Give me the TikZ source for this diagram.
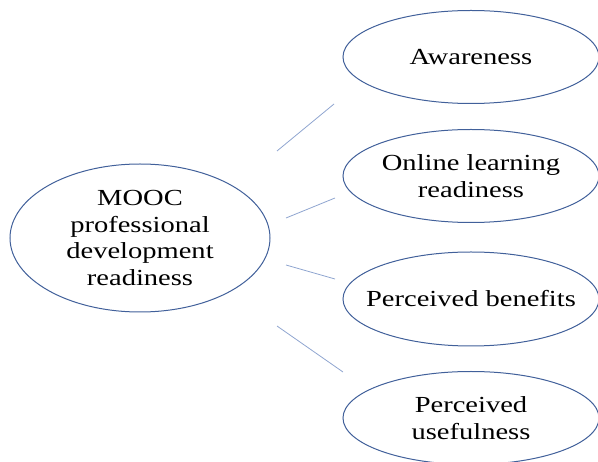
\documentclass[tikz,border=0pt]{standalone}
\usepackage{fontspec}
\setmainfont{Liberation Serif}[FakeStretch=1.24]
\usetikzlibrary{shapes.geometric}
\definecolor{rim}{HTML}{41609A}
\definecolor{link}{HTML}{8FA5D0}
\begin{document}
\begin{tikzpicture}[x=1pt,y=-1pt,
  oval/.style={ellipse, draw=rim, line width=1pt, inner xsep=-40pt, inner ysep=0pt,
    align=center, font=\fontsize{23}{27}\selectfont},
  link/.style={draw=link, line width=0.8pt}]
\useasboundingbox (0,0) rectangle (598,462);
% central construct
\node[oval, minimum width=260pt, minimum height=148pt] (mooc) at (140,238)
  {MOOC\\professional\\development\\readiness};
% dimensions
\node[oval, minimum width=256pt, minimum height=93pt] (aw) at (471,57) {Awareness};
\node[oval, minimum width=256pt, minimum height=93pt] (ol) at (471,176) {Online learning\\readiness};
\node[oval, minimum width=256pt, minimum height=94pt] (pb) at (471,299) {Perceived benefits};
\node[oval, minimum width=256pt, minimum height=93pt] (pu) at (471,418) {Perceived\\usefulness};
% detached connector ends
\coordinate (a1) at (277,151); \coordinate (b1) at (334,104);
\coordinate (a2) at (286,218); \coordinate (b2) at (335,198);
\coordinate (a3) at (286,265); \coordinate (b3) at (335,279);
\coordinate (a4) at (277,326); \coordinate (b4) at (343,372);
\draw[link] (a1) -- (b1);
\draw[link] (a2) -- (b2);
\draw[link] (a3) -- (b3);
\draw[link] (a4) -- (b4);
\end{tikzpicture}
\end{document}
